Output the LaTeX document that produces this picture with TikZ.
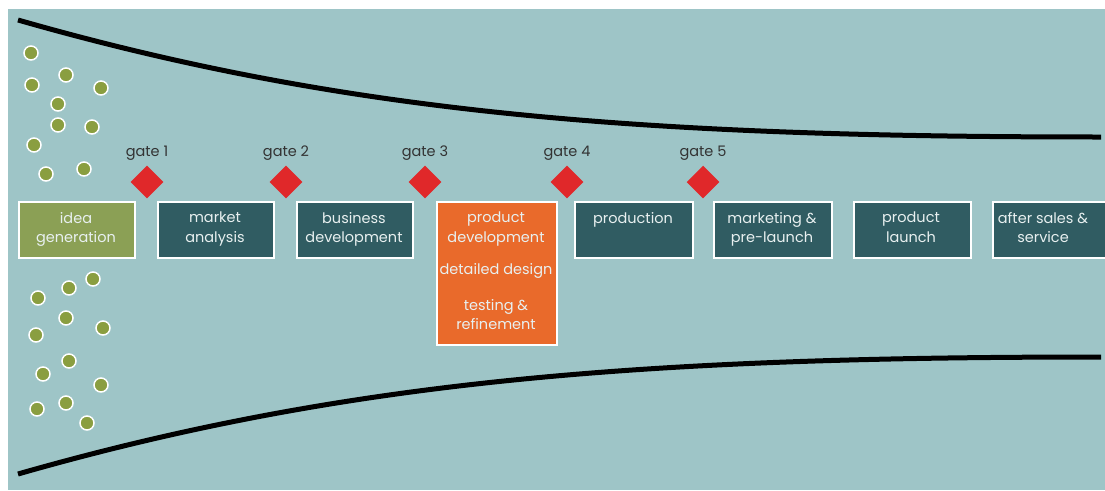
\documentclass[tikz,border=0pt]{standalone}
\usepackage{fontspec}
\setmainfont{Poppins}
\definecolor{bg}{HTML}{9EC5C7}
\definecolor{darkbox}{HTML}{305C62}
\definecolor{orangebox}{HTML}{E96A2B}
\definecolor{greenbox}{HTML}{8BA055}
\definecolor{dotgreen}{HTML}{8A9E40}
\definecolor{gatered}{HTML}{E0282A}
\definecolor{boxtext}{HTML}{E8F0F0}
\definecolor{gatetext}{HTML}{333333}
\tikzset{
  stagebox/.style={draw=white, line width=1.8pt, minimum width=116pt, minimum height=56pt, anchor=north west, inner sep=0pt},
  darkstage/.style={stagebox, fill=darkbox},
  stagetext/.style={text=boxtext, font=\fontsize{14.5}{19.5}\selectfont, align=center, anchor=north, inner sep=0pt},
  gatediamond/.style={fill=gatered, minimum size=23pt, rotate=45, inner sep=0pt},
  gatelabel/.style={text=gatetext, font=\fontsize{14.5}{17}\selectfont, anchor=base, inner sep=0pt},
  idea/.style={circle, fill=dotgreen, draw=white, line width=1.5pt, minimum size=14pt, inner sep=0pt},
  funnel/.style={line width=5pt, black}
}
\begin{document}
\begin{tikzpicture}[x=1pt,y=-1pt]
\useasboundingbox (0,0) rectangle (1105,490);
\fill[white] (0,0) rectangle (1105,490);
\fill[bg] (8,9) rectangle (1105,490);
% funnel curves
\draw[funnel] (18,20) .. controls (350,115) and (650,137) .. (1101,137);
\draw[funnel] (18,474) .. controls (350,379) and (650,357) .. (1101,357);
% idea dots
\foreach \x/\y [count=\i] in {31/53,66/75,32/85,101/88,58/104,58/125,92/127,34/145,84/169,46/174,
  93/279,69/288,38/298,66/318,103/328,36/335,69/361,43/374,101/385,37/409,66/403,87/423}
  \node[idea] (dot\i) at (\x,\y) {};
% stage boxes
\node[stagebox, fill=greenbox] (s1) at (18,201) {};
\node[darkstage] (s2) at (157,201) {};
\node[darkstage] (s3) at (296,201) {};
\node[stagebox, fill=orangebox, minimum width=120pt, minimum height=143pt] (s4) at (436,201) {};
\node[darkstage, minimum width=118pt] (s5) at (574,201) {};
\node[darkstage, minimum width=118pt] (s6) at (713,201) {};
\node[darkstage, minimum width=117pt] (s7) at (853,201) {};
\node[darkstage, minimum width=120pt] (s8) at (992,201) {};
% stage texts
\node[stagetext] (t1) at (76,212) {idea\\generation};
\node[stagetext] (t2) at (215,212) {market\\analysis};
\node[stagetext] (t3) at (354,212) {business\\development};
\node[stagetext] (t4a) at (496,212) {product\\development};
\node[stagetext, anchor=base] (t4b) at (496,274) {detailed design};
\node[stagetext] (t4c) at (496,299) {testing \&\\refinement};
\node[stagetext] (t5) at (633,212) {production};
\node[stagetext] (t6) at (772,212) {marketing \&\\pre-launch};
\node[stagetext] (t7) at (911,212) {product\\launch};
\node[stagetext] (t8) at (1043,212) {after sales \&\\service};
% gates
\foreach \x [count=\i] in {147,286,425,567,703} {
  \node[gatediamond] (g\i) at (\x,182) {};
  \node[gatelabel] (gl\i) at (\x,156) {gate \i};
}
\end{tikzpicture}
\end{document}
